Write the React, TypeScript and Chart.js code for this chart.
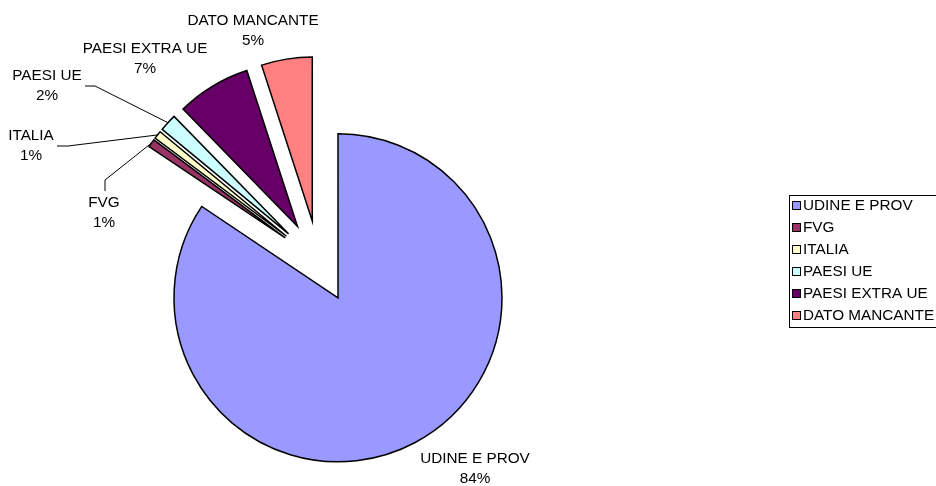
import { useEffect, useRef } from "react";
import { Chart, registerables } from "chart.js";

Chart.register(...registerables);

const categories = ["UDINE E PROV", "FVG", "ITALIA", "PAESI UE", "PAESI EXTRA UE", "DATO MANCANTE"];
const shares = [84.4, 0.8, 0.8, 1.7, 7.3, 5.0];
const sliceColors = ["#9999FF", "#993366", "#FFFFCC", "#CCFFFF", "#660066", "#FF8080"];

const EXPLODE_PX = 41;
const RADIUS = 164;
const FONT = '15.3px "Liberation Sans", Arial, sans-serif';
const LINE_GAP = 19.5;

// label placement (layout only): centre x, first text line y, optional leader elbow points
const labelLayout: { x: number; y: number; leader?: number[][] }[] = [
  { x: 475, y: 459 },
  { x: 104, y: 203, leader: [[105, 191], [105, 180]] },
  { x: 31, y: 136, leader: [[57, 146], [68, 146]] },
  { x: 47, y: 76, leader: [[85, 86], [95, 86]] },
  { x: 145, y: 49 },
  { x: 253, y: 21 },
];

const legendBox = { x: 789.5, y: 195.5, w: 170, h: 132, rowY: 206, rowGap: 22 };

// explode every slice outward along its bisector (Excel-style exploded pie)
const explodeSlices = {
  id: "explodeSlices",
  afterDatasetUpdate(chart: any, args: any) {
    const meta = chart.getDatasetMeta(args.index);
    meta.data.forEach((el: any) => {
      const mid = (el.startAngle + el.endAngle) / 2;
      el.x = el.x + Math.cos(mid) * EXPLODE_PX;
      el.y = el.y + Math.sin(mid) * EXPLODE_PX;
    });
  },
};

const labelsAndLegend = {
  id: "labelsAndLegend",
  afterDraw(chart: any) {
    const ctx: CanvasRenderingContext2D = chart.ctx;
    const meta = chart.getDatasetMeta(0);
    const total = shares.reduce((a, b) => a + b, 0);
    ctx.save();
    ctx.font = FONT;
    ctx.fillStyle = "#000";
    ctx.textAlign = "center";
    ctx.textBaseline = "middle";
    meta.data.forEach((el: any, i: number) => {
      const lay = labelLayout[i];
      const pct = Math.round((shares[i] / total) * 100) + "%";
      ctx.fillText(categories[i], lay.x, lay.y);
      ctx.fillText(pct, lay.x, lay.y + LINE_GAP);
      if (lay.leader) {
        const mid = (el.startAngle + el.endAngle) / 2;
        const ex = el.x + Math.cos(mid) * el.outerRadius;
        const ey = el.y + Math.sin(mid) * el.outerRadius;
        ctx.beginPath();
        ctx.lineWidth = 1;
        ctx.strokeStyle = "#000";
        ctx.moveTo(lay.leader[0][0], lay.leader[0][1]);
        for (let k = 1; k < lay.leader.length; k++) ctx.lineTo(lay.leader[k][0], lay.leader[k][1]);
        ctx.lineTo(ex, ey);
        ctx.stroke();
      }
    });

    // legend
    const lb = legendBox;
    ctx.lineWidth = 1;
    ctx.strokeStyle = "#000";
    ctx.strokeRect(lb.x, lb.y, lb.w, lb.h);
    ctx.textAlign = "left";
    categories.forEach((c, i) => {
      const y = lb.rowY + i * lb.rowGap;
      ctx.fillStyle = sliceColors[i];
      ctx.fillRect(lb.x + 3, y - 4.5, 8, 8);
      ctx.strokeRect(lb.x + 3, y - 4.5, 8, 8);
      ctx.fillStyle = "#000";
      ctx.fillText(c, lb.x + 13.5, y);
    });
    ctx.restore();
  },
};

export default function App() {
  const ref = useRef<HTMLCanvasElement | null>(null);
  useEffect(() => {
    if (!ref.current) return;
    const chart = new Chart(ref.current, {
      type: "pie",
      data: {
        labels: categories,
        datasets: [
          {
            data: shares,
            backgroundColor: sliceColors,
            borderColor: "#000",
            borderWidth: 1.5,
            borderJoinStyle: "miter",
            radius: RADIUS,
          } as any,
        ],
      },
      options: {
        responsive: false,
        animation: false,
        events: [],
        layout: { padding: { left: 0, right: 298.6, top: 37.2, bottom: 0 } },
        plugins: { legend: { display: false }, tooltip: { enabled: false }, title: { display: false } },
      } as any,
      plugins: [explodeSlices, labelsAndLegend],
    });
    return () => chart.destroy();
  }, []);
  return (
    <div style={{ position: "absolute", left: 0, top: 0, width: 936, height: 486, background: "#fff" }}>
      <canvas ref={ref} width={936} height={486} style={{ display: "block" }} />
    </div>
  );
}
